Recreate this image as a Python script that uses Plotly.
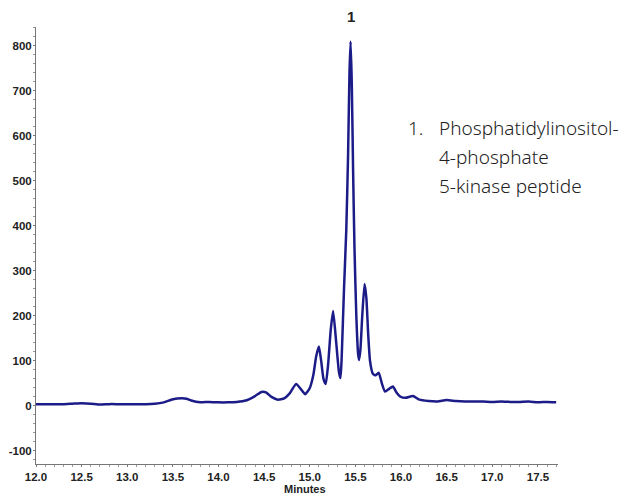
import plotly.graph_objects as go

# chromatogram (minutes, mAU)
minutes = [12.00, 12.10, 12.20, 12.30, 12.40, 12.50, 12.60, 12.70, 12.80, 12.90,
           13.00, 13.10, 13.20, 13.30, 13.40, 13.50, 13.60, 13.65, 13.70, 13.80,
           13.90, 14.00, 14.10, 14.20, 14.30, 14.40, 14.47, 14.52, 14.58, 14.65,
           14.72, 14.78, 14.85, 14.90, 14.95, 15.00, 15.04, 15.07, 15.10, 15.125,
           15.15, 15.175, 15.20, 15.23, 15.256, 15.29, 15.32, 15.337, 15.35, 15.375,
           15.40, 15.42, 15.435, 15.447, 15.46, 15.475, 15.49, 15.51, 15.53, 15.54,
           15.555, 15.575, 15.60, 15.62, 15.64, 15.66, 15.69, 15.72, 15.755, 15.79,
           15.825, 15.87, 15.91, 15.95, 15.99, 16.05, 16.13, 16.20, 16.30, 16.40,
           16.50, 16.60, 16.70, 16.80, 16.90, 17.00, 17.10, 17.20, 17.30, 17.40,
           17.50, 17.60, 17.70]
signal = [4, 4, 4, 4, 5, 6, 5, 3, 4, 4,
          4, 4, 4, 5, 8, 15, 17, 16, 12, 8,
          9, 8, 8, 9, 12, 22, 31, 30, 20, 14,
          17, 28, 49, 38, 26, 40, 70, 110, 132, 100,
          60, 49, 90, 170, 211, 140, 75, 62, 110, 260,
          391, 560, 740, 810, 720, 520, 350, 200, 115, 102,
          125, 200, 271, 240, 160, 100, 72, 68, 74, 50,
          32, 38, 43, 30, 21, 18, 22, 14, 11, 10,
          13, 11, 10, 10, 10, 9, 10, 9, 9, 10,
          8, 9, 8]

x_ticks = [12.0, 12.5, 13.0, 13.5, 14.0, 14.5, 15.0, 15.5, 16.0, 16.5, 17.0, 17.5]
y_ticks = [-100, 0, 100, 200, 300, 400, 500, 600, 700, 800]
peak_label = "1"
peak_time = 15.447
legend_number = "1."
legend_lines = ["Phosphatidylinositol-", "4-phosphate", "5-kinase peptide"]

# the page body has an 8px margin, so the figure is drawn 8px in from the corner
# plot area (figure px): x 28..550, y 19..456
W, H = 619, 486
PW, PH = 522, 437

tickfont = dict(family="Liberation Sans, Arial", size=11.5, color="#222", weight="bold")
notefont = dict(family="Noto Sans", size=19, color="#222", weight=300)

fig = go.Figure()
fig.add_scatter(x=minutes, y=signal, mode="lines",
                line=dict(color="#1c1c88", width=2.5, shape="spline", smoothing=0.5),
                hoverinfo="skip")

fig.add_annotation(x=peak_time, y=1, yref="paper", text=peak_label, showarrow=False,
                   yanchor="bottom", yshift=0,
                   font=dict(family="Liberation Sans, Arial", size=15, color="#222", weight="bold"))

fig.add_annotation(xref="paper", yref="paper", x=(406 - 36) / PW, y=(464 - 128) / PH,
                   text=legend_number, showarrow=False, xanchor="left", yanchor="middle",
                   font=notefont)
for i, line in enumerate(legend_lines):
    fig.add_annotation(xref="paper", yref="paper", x=(437 - 36) / PW,
                       y=(464 - 128 - i * 29) / PH, text=line, showarrow=False,
                       xanchor="left", yanchor="middle", align="left", font=notefont)

fig.add_annotation(xref="paper", yref="paper", x=(305 - 36) / PW, y=-25 / PH, text="Minutes",
                   showarrow=False, yanchor="middle",
                   font=dict(family="Liberation Sans, Arial", size=11, color="#222", weight="bold"))

fig.update_layout(
    width=W, height=H,
    margin=dict(l=28, r=69, t=19, b=30),
    paper_bgcolor="white", plot_bgcolor="white",
    showlegend=False,
    xaxis=dict(range=[12.0, 17.72], tickvals=x_ticks, ticktext=[f"{v:.1f}" for v in x_ticks],
               automargin=False,
               showgrid=False, zeroline=False, showline=True, linecolor="#777", linewidth=1,
               ticks="outside", ticklen=2, tickcolor="#777", tickfont=tickfont,
               minor=dict(dtick=0.1, ticks="outside", ticklen=2, tickcolor="#999")),
    yaxis=dict(range=[-129, 842], tickvals=y_ticks, ticktext=[str(v) for v in y_ticks],
               showgrid=False, zeroline=False, automargin=False, ticklabelstandoff=-1,
               showline=True, linecolor="#777", linewidth=1,
               ticks="outside", ticklen=2, tickcolor="#777", tickfont=tickfont,
               minor=dict(dtick=20, ticks="outside", ticklen=2, tickcolor="#999")),
)

fig.write_html("out.html")
